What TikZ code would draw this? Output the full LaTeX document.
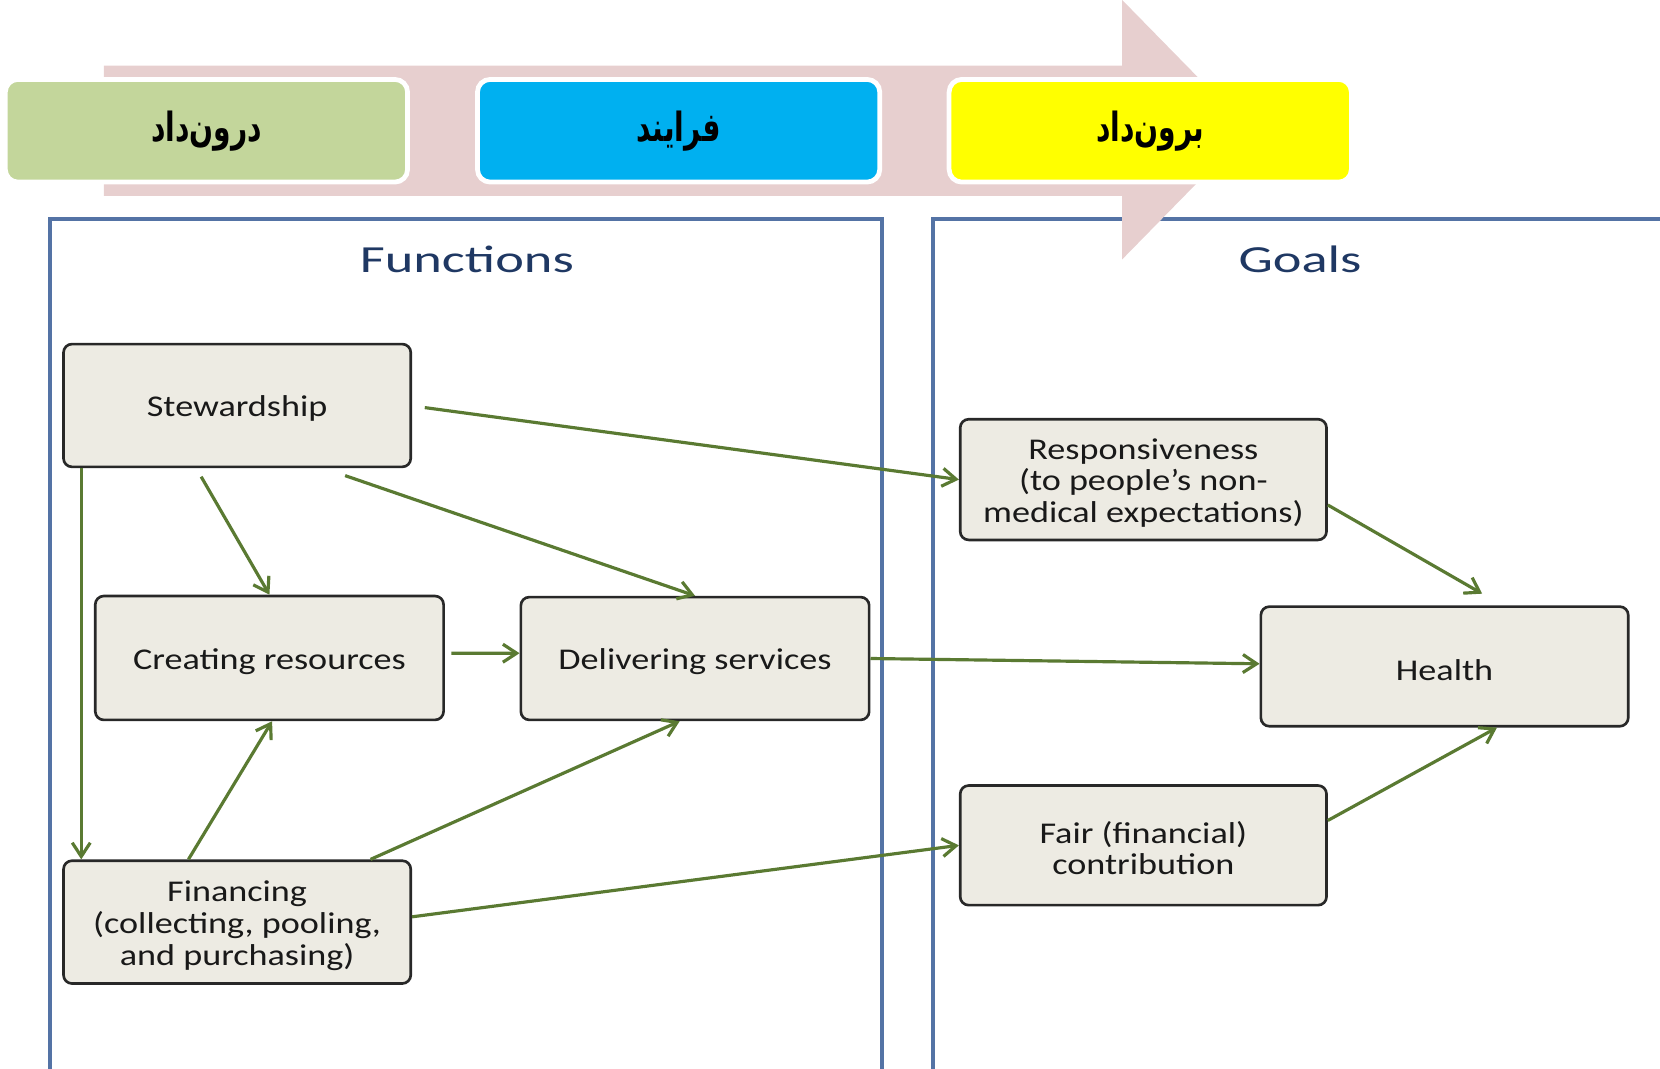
\documentclass[tikz,border=0pt]{standalone}
\usepackage{fontspec}
\usetikzlibrary{arrows.meta}
\TeXXeTstate=1
\newfontfamily\boxfont{Carlito}[FakeStretch=1.2]
\newfontfamily\titlefont{Carlito}[FakeStretch=1.42]
\newfontfamily\fafont[Script=Arabic,FakeStretch=0.7]{DejaVu Sans}
\newcommand{\lowstrut}{\rule{0pt}{2.6mm}}
\definecolor{pinkarrow}{RGB}{231,207,207}
\definecolor{hgreen}{RGB}{195,214,155}
\definecolor{hblue}{RGB}{0,176,240}
\definecolor{hyellow}{RGB}{255,255,0}
\definecolor{framecol}{RGB}{84,115,165}
\definecolor{titlecol}{RGB}{31,56,99}
\definecolor{boxfill}{RGB}{237,235,227}
\definecolor{boxline}{RGB}{40,40,40}
\definecolor{arrowcol}{RGB}{90,122,50}
\tikzset{
  hdrbox/.style={draw=white, line width=0.45mm, rounded corners=1.2mm,
    minimum width=38mm, minimum height=9.7mm, inner sep=0pt,
    font=\fafont\bfseries\fontsize{10.8}{13}\selectfont},
  fbox/.style={draw=boxline, fill=boxfill, line width=0.25mm, rounded corners=0.8mm,
    minimum width=32.8mm, minimum height=11.6mm, inner sep=0pt, align=center,
    font=\boxfont\fontsize{8.1}{8.6}\selectfont, text=black!90},
  frame/.style={draw=framecol, line width=0.38mm},
  ttl/.style={font=\titlefont\fontsize{10.3}{12}\selectfont, text=titlecol, inner sep=0pt},
  conn/.style={draw=arrowcol, line width=0.3mm, -{Straight Barb[length=1.3mm,width=1.7mm,line width=0.3mm]}}
}
\begin{document}
\begin{tikzpicture}[x=0.1mm,y=-0.1mm]
\useasboundingbox (0,0) rectangle (1568,1009);
\clip (0,0) rectangle (1568,1009);
% frames
\draw[frame] (47,1030) -- (47,207) -- (833,207) -- (833,1030);
\draw[frame] (881,1030) -- (881,207) -- (1600,207);
% pink process arrow
\fill[pinkarrow] (98,62) -- (1060,62) -- (1060,0) -- (1180,122.5) -- (1060,245) -- (1060,185) -- (98,185) -- cycle;
% header boxes
\node[hdrbox, fill=hgreen] (inp) at (195,123.5) {\beginR درون‌داد\endR};
\node[hdrbox, fill=hblue] (proc) at (641,123.5) {\beginR فرایند\endR};
\node[hdrbox, fill=hyellow] (outp) at (1086.5,123.5) {\beginR برون‌داد\endR};
% titles
\node[ttl] (tfun) at (441,245) {Functions};
\node[ttl] (tgoal) at (1228,245) {Goals};
% boxes
\node[fbox] (stew) at (224,383) {\lowstrut Stewardship};
\node[fbox, minimum width=32.9mm, minimum height=11.7mm] (crea) at (254.5,621.5) {\lowstrut Creating resources};
\node[fbox, minimum width=32.9mm] (deliv) at (656.5,622) {\lowstrut Delivering services};
\node[fbox] (fin) at (224,871) {\lowstrut Financing\\(collecting, pooling,\\and purchasing)};
\node[fbox, minimum width=34.6mm, minimum height=11.4mm, font=\boxfont\fontsize{8.1}{8.4}\selectfont] (resp) at (1080,453) {\lowstrut Responsiveness\\(to people’s non-\\medical expectations)};
\node[fbox, minimum width=34.7mm, minimum height=11.3mm] (health) at (1364.5,629.5) {\lowstrut Health};
\node[fbox, minimum width=34.6mm, minimum height=11.3mm, font=\boxfont\fontsize{8.1}{8.4}\selectfont] (fair) at (1080,798.5) {\lowstrut Fair (financial)\\contribution};
% connectors
\draw[conn] ([xshift=1.2mm,yshift=-0.2mm]stew.east) -- (resp.west);
\draw[conn] ([xshift=-3.4mm,yshift=-0.8mm]stew.south) -- (crea.north);
\draw[conn] ([xshift=10.2mm,yshift=-0.7mm]stew.south) -- (deliv.north);
\draw[conn] ([xshift=1.8mm]stew.south west) -- ([xshift=1.8mm]fin.north west);
\draw[conn] ([xshift=0.6mm,yshift=0.45mm]crea.east) -- ([yshift=0.5mm]deliv.west);
\draw[conn] (deliv.east) -- ([yshift=0.25mm]health.west);
\draw[conn] ([xshift=-4.6mm]fin.north) -- ([xshift=0.25mm]crea.south);
\draw[conn] ([xshift=12.6mm]fin.north) -- ([xshift=-1.45mm]deliv.south);
\draw[conn] ([yshift=0.5mm]fin.east) -- (fair.west);
\draw[conn] ([yshift=-2.4mm]resp.east) -- ([xshift=3.55mm,yshift=1.1mm]health.north);
\draw[conn] ([yshift=2.35mm]fair.east) -- ([xshift=4.95mm]health.south);
\end{tikzpicture}
\end{document}
